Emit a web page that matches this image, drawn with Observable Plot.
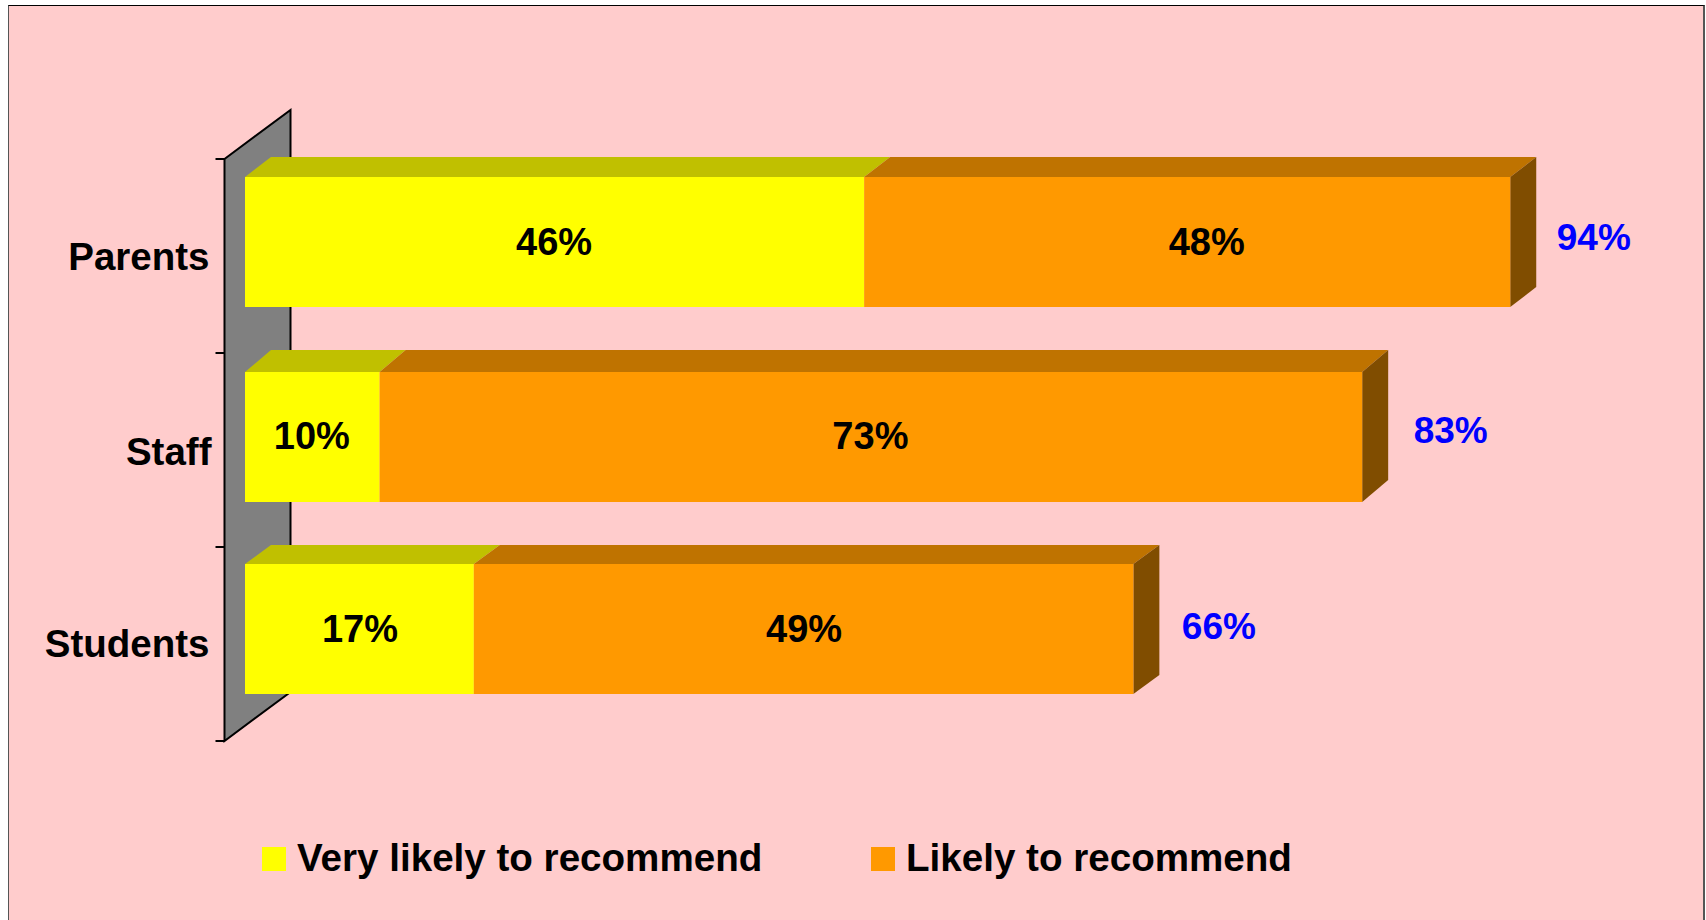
<!DOCTYPE html>
<html>
<head>
<meta charset="utf-8">
<script src="https://cdn.jsdelivr.net/npm/d3@7"></script>
<script src="https://cdn.jsdelivr.net/npm/@observablehq/plot@0.6"></script>
<style>
html,body{margin:0;padding:0;background:#fff;overflow:hidden}
#page{position:relative;width:1706px;height:920px;overflow:hidden;font-family:"Liberation Sans",Arial,sans-serif}
#panel{position:absolute;left:8px;top:5px;width:1694px;height:960px;background:#FFCCCC;border-left:1px solid #555;border-top:1px solid #000;border-right:2px solid #555}
#chart{position:absolute;left:0;top:0}
#chart svg{display:block;background:transparent}
#legend{position:absolute;left:262px;top:830px;height:90px;width:1300px}
.item{position:absolute;top:0;display:block;white-space:nowrap}
.sw{position:absolute;top:17px;left:0;width:24px;height:24px}
.lb{position:absolute;left:35px;top:7px;font-size:38.6px;line-height:42px;font-weight:700;color:#000}
</style>
</head>
<body>
<div id="page">
  <div id="panel"></div>
  <div id="chart"></div>
  <div id="legend"></div>
</div>
<script>
const groups = ["Parents", "Staff", "Students"];
const seriesNames = ["Very likely to recommend", "Likely to recommend"];
const veryLikely = [46, 10, 17];
const likely = [48, 73, 49];
const totals = [94, 83, 66];
const frontColors = ["#FFFF00", "#FF9900"];
const topColors = ["#C0C000", "#BF7300"];
const sideColor = "#804D00";
const wallColor = "#808080";

const rows = groups.flatMap((g, i) => [
  {row: i, group: g, series: seriesNames[0], value: veryLikely[i], start: 0, end: veryLikely[i], top: topColors[0]},
  {row: i, group: g, series: seriesNames[1], value: likely[i], start: veryLikely[i], end: veryLikely[i] + likely[i], top: topColors[1]}
]);
const totalRows = groups.map((g, i) => ({row: i, group: g, total: totals[i], sum: veryLikely[i] + likely[i]}));

// The hand-placed look of the original: per-bar pixel nudges and 3-D depth
const barNudge = [0, 1, -1];
const barDepthY = [-20, -22, -19];
const DX = 26, WALL_DX = 66, WALL_DY = -49;
const segLabelDx = [-1, 19, -1, -1, 0, 0];
const segLabelDy = [0, 0, -0.5];
const totalDx = [46, 51, 48];
const totalDy = [-4, -5.5, -3];

function wall(index, scales) {
  const x0 = scales.x(0) - 20.5;
  const step = scales.y.step();
  const top = scales.y(groups[0]) - 18;
  const bottom = top + step * groups.length;
  const g = d3.create("svg:g");
  g.append("path")
    .attr("d", `M${x0},${top}L${x0 + WALL_DX},${top + WALL_DY}L${x0 + WALL_DX},${bottom + WALL_DY}L${x0},${bottom}Z`)
    .attr("fill", wallColor).attr("stroke", "#000").attr("stroke-width", 2);
  d3.range(groups.length + 1).forEach(i => {
    g.append("line").attr("x1", x0 - 9).attr("x2", x0)
      .attr("y1", top + i * step).attr("y2", top + i * step)
      .attr("stroke", "#000").attr("stroke-width", 2);
  });
  return g.node();
}

function faces(index, scales) {
  const g = d3.create("svg:g");
  for (const r of rows) {
    const a = scales.x(r.start), b = scales.x(r.end);
    const y = scales.y(r.group) + barNudge[r.row], dy = barDepthY[r.row];
    g.append("polygon")
      .attr("points", `${a},${y} ${a + DX},${y + dy} ${b + DX},${y + dy} ${b},${y}`)
      .attr("fill", r.top);
  }
  for (const t of totalRows) {
    const b = scales.x(t.sum), y = scales.y(t.group) + barNudge[t.row], h = scales.y.bandwidth(), dy = barDepthY[t.row];
    g.append("polygon")
      .attr("points", `${b},${y} ${b + DX},${y + dy} ${b + DX},${y + h + dy} ${b},${y + h}`)
      .attr("fill", sideColor);
  }
  return g.node();
}

const axisStyle = {anchor: "left", tickSize: 0, label: null, fontSize: 38.5, fontWeight: 700, fill: "#000"};

const plot = Plot.plot({
  width: 1706,
  height: 830,
  marginLeft: 245,
  marginRight: 115,
  marginTop: 145,
  marginBottom: 103,
  style: {background: "transparent", fontFamily: '"Liberation Sans", Arial, sans-serif', overflow: "visible"},
  x: {domain: [0, 100], axis: null},
  y: {domain: groups, paddingInner: 0.33, paddingOuter: 0.165, align: 0.5, label: null},
  color: {domain: seriesNames, range: frontColors},
  marks: [
    wall,
    faces,
    ...rows.map(r => Plot.rectX([r], {
      x1: "start", x2: "end", y: "group", fill: "series", dy: barNudge[r.row]
    })),
    ...rows.map((r, i) => Plot.text([r], {
      x: d => (d.start + d.end) / 2, y: "group", text: d => d.value + "%",
      fontSize: 38, fontWeight: 700, fill: "#000", dx: segLabelDx[i], dy: segLabelDy[r.row]
    })),
    ...totalRows.map(t => Plot.text([t], {
      x: "sum", y: "group", text: d => d.total + "%", textAnchor: "start",
      dx: totalDx[t.row], dy: totalDy[t.row], fontSize: 37, fontWeight: 700, fill: "#0000FF"
    })),
    Plot.axisY({...axisStyle, ticks: [groups[0]], tickPadding: 36, dy: 15}),
    Plot.axisY({...axisStyle, ticks: [groups[1]], tickPadding: 34, dy: 16}),
    Plot.axisY({...axisStyle, ticks: [groups[2]], tickPadding: 36, dy: 14})
  ]
});
document.getElementById("chart").appendChild(plot);

const legend = d3.select("#legend");
const itemLeft = [0, 609];
seriesNames.forEach((s, i) => {
  const it = legend.append("div").attr("class", "item").style("left", itemLeft[i] + "px");
  it.append("div").attr("class", "sw").style("background", frontColors[i]);
  it.append("div").attr("class", "lb").text(s);
});
</script>
</body>
</html>
